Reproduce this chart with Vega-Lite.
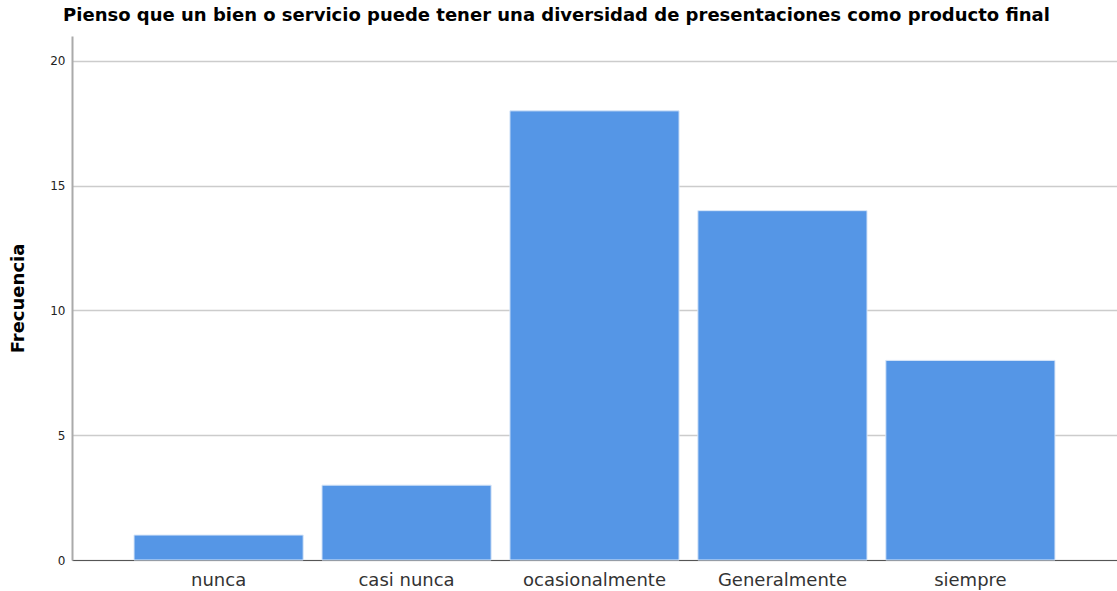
{
  "$schema": "https://vega.github.io/schema/vega-lite/v6.json",
  "width": 1045,
  "height": 524,
  "autosize": {"type": "none"},
  "padding": {"left": 72, "top": 36, "right": 0, "bottom": 31},
  "background": "white",
  "title": {
    "text": "Pienso que un bien o servicio puede tener una diversidad de presentaciones como producto final",
    "font": "DejaVu Sans",
    "fontSize": 18,
    "fontWeight": "bold",
    "color": "#000000",
    "anchor": "middle",
    "frame": "group",
    "dx": -38,
    "offset": 11
  },
  "data": {
    "values": [
      {"categoria": "nunca", "frecuencia": 1},
      {"categoria": "casi nunca", "frecuencia": 3},
      {"categoria": "ocasionalmente", "frecuencia": 18},
      {"categoria": "Generalmente", "frecuencia": 14},
      {"categoria": "siempre", "frecuencia": 8}
    ]
  },
  "mark": {"type": "bar", "color": "#5596e6", "stroke": "#d8e6f8", "strokeWidth": 1},
  "encoding": {
    "x": {
      "field": "categoria",
      "type": "nominal",
      "sort": null,
      "scale": {"paddingInner": 0.1, "paddingOuter": 0.33},
      "axis": {
        "title": null,
        "labelAngle": 0,
        "labelFont": "DejaVu Sans",
        "labelFontSize": 18,
        "labelColor": "#333333",
        "labelPadding": 11,
        "ticks": false,
        "domainColor": "#555555",
        "domainWidth": 1,
        "grid": false
      }
    },
    "y": {
      "field": "frecuencia",
      "type": "quantitative",
      "scale": {"domain": [0, 21], "nice": false},
      "axis": {
        "title": "Frecuencia",
        "titleFont": "DejaVu Sans",
        "titleFontSize": 18,
        "titleFontWeight": "bold",
        "titleColor": "#000000",
        "titlePadding": 22,
        "values": [0, 5, 10, 15, 20],
        "labelFont": "DejaVu Sans",
        "labelFontSize": 12,
        "labelColor": "#222222",
        "labelPadding": 7,
        "ticks": false,
        "domainColor": "#aaaaaa",
        "domainWidth": 2,
        "gridColor": "#cccccc",
        "gridWidth": 1.5
      }
    }
  },
  "config": {"view": {"stroke": null}}
}
